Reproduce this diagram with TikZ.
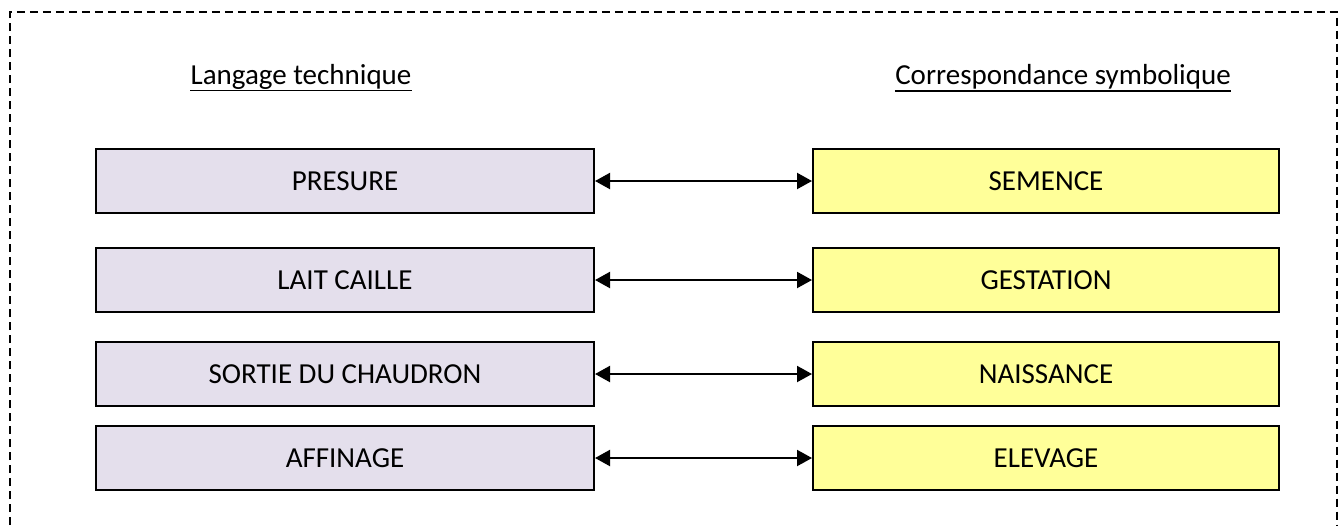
\documentclass[tikz,border=0pt]{standalone}
\usepackage{fontspec}
\setmainfont{Carlito}
\usetikzlibrary{arrows.meta,positioning}
\definecolor{lavender}{HTML}{E4DFEC}
\definecolor{paleyellow}{HTML}{FFFF99}

\begin{document}
\begin{tikzpicture}[
  x=0.02cm, y=-0.02cm,
  term/.style={rectangle, draw, line width=1.2pt, fill=lavender, minimum width=9.96cm, minimum height=1.28cm, font=\fontsize{16.5}{19}\selectfont},
  symbol/.style={rectangle, draw, line width=1.2pt, fill=paleyellow, minimum width=9.32cm, minimum height=1.28cm, font=\fontsize{16.5}{19}\selectfont},
  heading/.style={inner xsep=0pt, font=\fontsize{16.5}{19}\selectfont},
  rule/.style={line width=1pt},
  link/.style={line width=1.2pt, {Triangle[length=0.3cm,width=0.32cm]}-{Triangle[length=0.3cm,width=0.32cm]}}
]
  \useasboundingbox (0,0) rectangle (1344,525);
  \draw[line width=1.2pt, dash pattern=on 0.16cm off 0.1cm] (10,525) -- (10,12) -- (1337,12) -- (1337,525);

  \node[heading] (technique) at (301,77) {Langage technique};
  \node[heading] (symbolique) at (1063,77) {Correspondance symbolique};
  % underlines of the two headings
  \draw[rule] ([yshift=-3.4pt]technique.base west) -- ([yshift=-3.4pt]technique.base east);
  \draw[rule] ([yshift=-3.4pt]symbolique.base west) -- ([yshift=-3.4pt]symbolique.base east);

  \node[term] (presure) at (345,181) {PRESURE};
  \node[term] (caille) at (345,280) {LAIT CAILLE};
  \node[term] (chaudron) at (345,374) {SORTIE DU CHAUDRON};
  \node[term] (affinage) at (345,458) {AFFINAGE};

  \node[symbol] (semence) at (1046,181) {SEMENCE};
  \node[symbol] (gestation) at (1046,280) {GESTATION};
  \node[symbol] (naissance) at (1046,374) {NAISSANCE};
  \node[symbol] (elevage) at (1046,458) {ELEVAGE};

  \draw[link] (presure) -- (semence);
  \draw[link] (caille) -- (gestation);
  \draw[link] (chaudron) -- (naissance);
  \draw[link] (affinage) -- (elevage);
\end{tikzpicture}
\end{document}
